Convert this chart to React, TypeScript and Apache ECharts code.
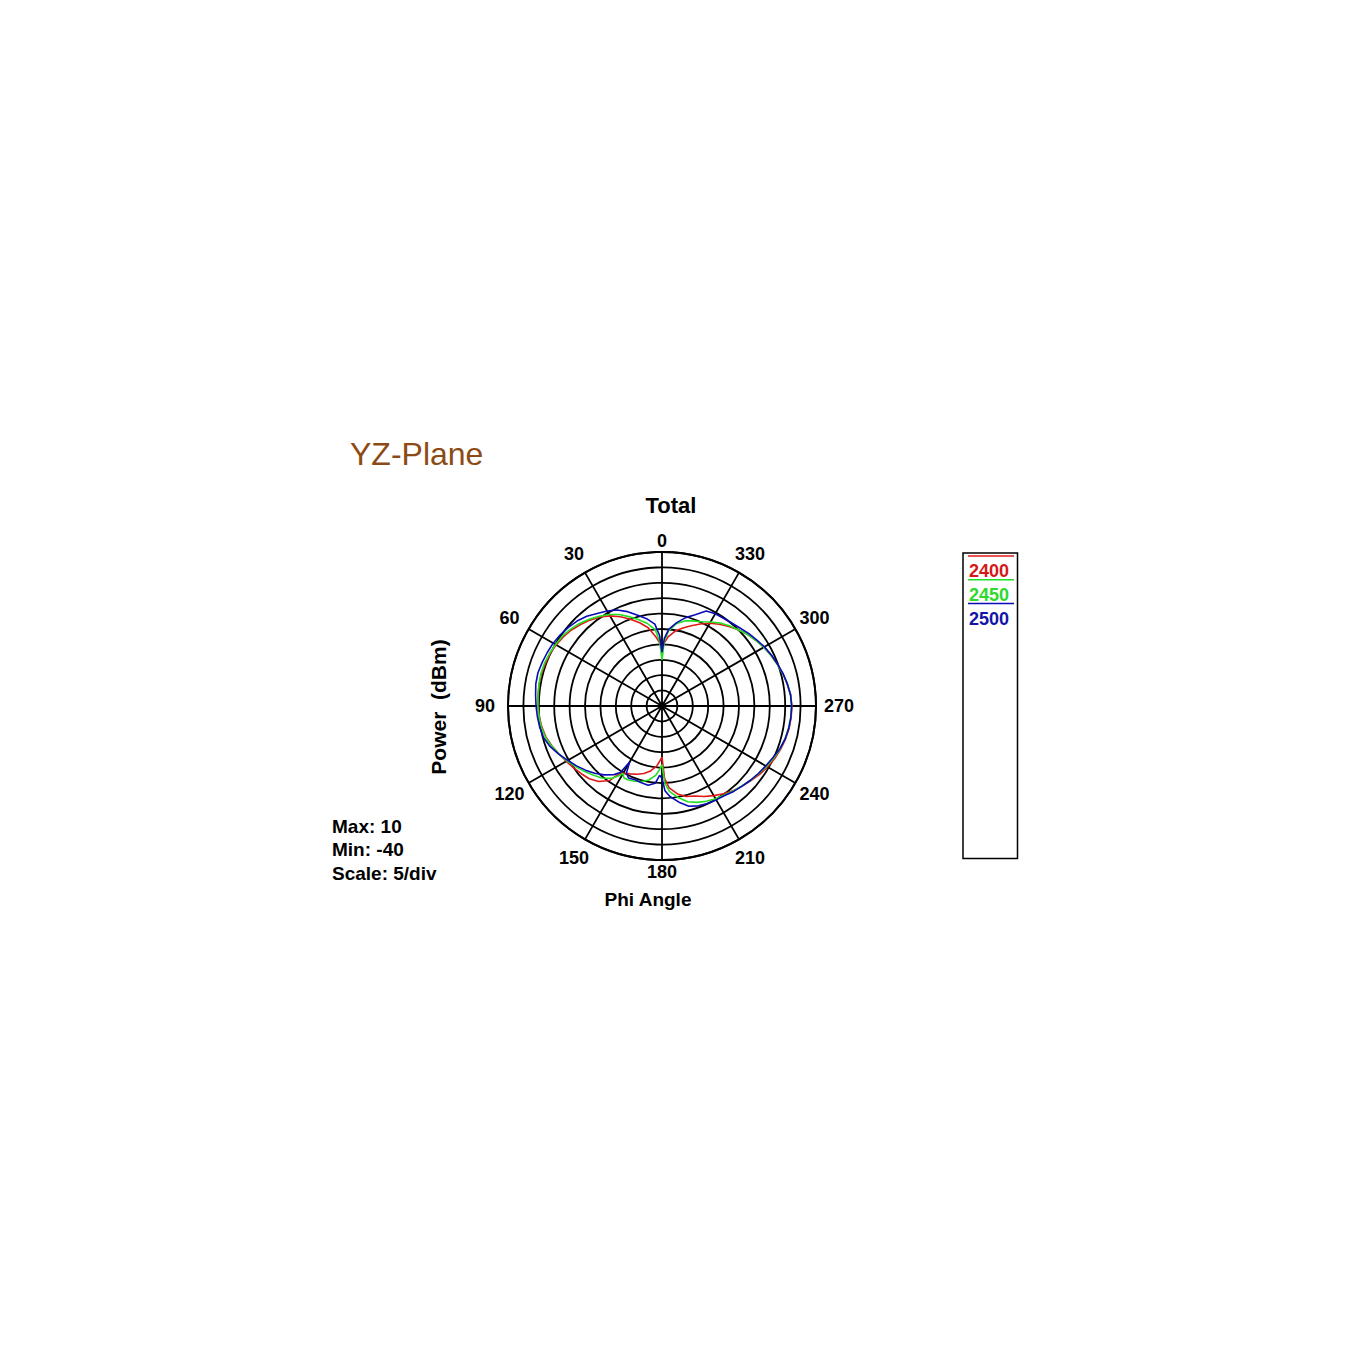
import React, { useEffect, useRef } from "react";
import * as echarts from "echarts";

const phiAngles = [
  0, 2, 5, 10, 15, 20, 25, 30, 35, 40, 45, 50, 55, 60, 65, 70, 75, 80, 85, 90,
  95, 100, 105, 110, 115, 120, 125, 130, 135, 140, 145, 148, 150, 152, 155, 160,
  165, 170, 175, 178, 180, 182, 185, 190, 195, 200, 205, 210, 215, 220, 225, 230,
  235, 240, 245, 250, 255, 260, 265, 270, 275, 280, 285, 290, 295, 300, 305, 310,
  315, 320, 325, 330, 335, 340, 345, 350, 355, 358, 360,
];

// power (dBm) per frequency
const power2400 = [
  -21.5, -19.5, -17.5, -14.2, -12.0, -10.0, -8.0, -6.2, -4.7, -3.6, -2.6, -1.6,
  -0.9, -0.3, 0.1, 0.3, 0.5, 0.5, 0.4, 0.3, 0.0, -0.4, -1.0, -2.0, -3.1, -4.1,
  -5.0, -5.8, -6.6, -8.0, -10.5, -14.3, -14.8, -15.2, -15.7, -16.4, -17.3, -18.6,
  -20.4, -22.3, -23.4, -16.5, -13.3, -11.0, -9.6, -8.9, -7.6, -6.4, -5.2, -4.1,
  -3.2, -2.3, -1.3, -0.4, 0.4, 1.0, 1.5, 1.9, 2.1, 2.2, 1.9, 1.3, 0.6, -0.2,
  -1.0, -1.8, -2.8, -3.8, -5.0, -6.3, -7.6, -9.0, -10.6, -12.3, -13.8, -15.3,
  -17.5, -19.5, -21.5,
];

const power2450 = [
  -25.0, -19.0, -15.2, -12.8, -11.0, -9.2, -7.2, -5.7, -4.4, -3.2, -2.1, -1.2,
  -0.5, -0.1, 0.3, 0.6, 0.7, 0.6, 0.4, 0.3, 0.1, -0.2, -0.8, -1.9, -3.1, -4.4,
  -5.7, -7.0, -8.3, -9.5, -11.3, -13.2, -14.7, -13.6, -13.6, -14.0, -14.6, -15.6,
  -17.5, -19.5, -21.0, -15.0, -12.2, -9.8, -7.8, -6.7, -5.9, -5.2, -4.7, -4.0,
  -3.3, -2.5, -1.7, -0.8, 0.0, 0.8, 1.3, 1.7, 2.0, 2.1, 1.9, 1.4, 0.6, -0.2,
  -1.0, -1.8, -2.8, -3.8, -5.0, -6.0, -7.1, -8.5, -9.8, -10.6, -11.4, -12.8,
  -15.5, -19.0, -25.0,
];

const power2500 = [
  -22.5, -17.0, -13.3, -11.2, -9.5, -7.4, -5.6, -4.4, -3.3, -2.0, -1.0, -0.3,
  0.3, 0.8, 1.1, 1.4, 1.7, 1.6, 1.2, 0.9, 0.6, 0.3, -0.2, -1.4, -3.0, -4.7,
  -6.1, -7.6, -9.1, -10.8, -12.8, -14.5, -19.0, -15.5, -14.2, -14.5, -14.2, -13.9,
  -14.8, -17.5, -16.5, -12.5, -10.5, -8.3, -6.3, -5.5, -5.1, -4.8, -4.5, -3.8,
  -3.2, -2.5, -1.8, -1.1, -0.3, 0.7, 1.4, 1.8, 2.0, 2.1, 1.9, 1.3, 0.7, -0.1,
  -0.8, -1.6, -2.5, -3.3, -4.2, -4.8, -5.2, -5.4, -6.0, -8.5, -10.3, -12.5,
  -15.0, -18.0, -22.5,
];

const seriesNames = ["2400", "2450", "2500"];
const lineColors = ["#e01818", "#22e022", "#0a0ab8"];
const textColors = ["#d81818", "#2fd82f", "#1414a8"];

// phi tick labels around the ring
const angleTicks = [0, 30, 60, 90, 120, 150, 180, 210, 240, 270, 300, 330];

const scaleMax = 10;
const scaleMin = -40;
const scaleStep = 5;
const infoLines = [`Max: ${scaleMax}`, `Min: ${scaleMin}`, `Scale: ${scaleStep}/div`];

const FONT = '"Liberation Sans", Arial, sans-serif';

const App: React.FC = () => {
  const chartRef = useRef<HTMLDivElement>(null);

  useEffect(() => {
    if (!chartRef.current) return;
    const chart = echarts.init(chartRef.current, null, { renderer: "svg" });

    const allPower = [power2400, power2450, power2500];
    const cx = 662;
    const cy = 706;
    const R = 154;

    // labels centred outside the ring; the ones at top/bottom sit a bit closer
    const tickLabels = angleTicks.map((a) => {
      const rad = (a * Math.PI) / 180;
      const d = a % 180 === 0 ? R + 11.5 : a % 90 === 0 ? R + 23 : R + 22;
      return {
        type: "text",
        x: cx - d * Math.sin(rad),
        y: cy - d * Math.cos(rad),
        style: {
          text: String(a),
          font: `bold 18px ${FONT}`,
          fill: "#000",
          textAlign: "center",
          verticalAlign: "middle",
        },
      };
    });

    const legendItems: any[] = [];
    seriesNames.forEach((name, i) => {
      const lineY = 556 + i * 23.7;
      legendItems.push({
        type: "line",
        shape: { x1: 968, y1: lineY, x2: 1014, y2: lineY },
        style: { stroke: lineColors[i], lineWidth: 1.5 },
      });
      legendItems.push({
        type: "text",
        x: 969,
        y: lineY + 15.3,
        style: {
          text: name,
          font: `bold 18px ${FONT}`,
          fill: textColors[i],
          textAlign: "left",
          verticalAlign: "middle",
        },
      });
    });

    const option: echarts.EChartsOption = {
      animation: false,
      backgroundColor: "#ffffff",
      polar: { center: [cx, cy], radius: R },
      angleAxis: {
        type: "value",
        min: 0,
        max: 360,
        interval: 30,
        startAngle: 90,
        clockwise: false,
        axisLine: { lineStyle: { color: "#000", width: 2 } },
        axisTick: { show: false },
        axisLabel: { show: false },
        splitLine: { lineStyle: { color: "#000", width: 1.8 } },
      },
      radiusAxis: {
        type: "value",
        min: scaleMin,
        max: scaleMax,
        interval: scaleStep,
        axisLine: { show: false },
        axisTick: { show: false },
        axisLabel: { show: false },
        splitLine: { lineStyle: { color: "#000", width: 1.8 } },
      },
      series: seriesNames.map((name, i) => ({
        name,
        type: "line",
        coordinateSystem: "polar",
        showSymbol: false,
        data: allPower[i].map((v, k) => [v, phiAngles[k]]),
        lineStyle: { color: lineColors[i], width: 1.6 },
        itemStyle: { color: lineColors[i] },
        z: 3 + i,
      })),
      graphic: [
        {
          type: "text",
          x: 350,
          y: 454,
          style: {
            text: "YZ-Plane",
            font: `32px ${FONT}`,
            fill: "#8c4a16",
            textAlign: "left",
            verticalAlign: "middle",
          },
        },
        {
          type: "text",
          x: 671,
          y: 505,
          style: {
            text: "Total",
            font: `bold 22px ${FONT}`,
            fill: "#000",
            textAlign: "center",
            verticalAlign: "middle",
          },
        },
        ...tickLabels,
        {
          type: "text",
          x: 438,
          y: 707,
          rotation: Math.PI / 2,
          style: {
            text: "Power  (dBm)",
            font: `bold 21px ${FONT}`,
            fill: "#000",
            textAlign: "center",
            verticalAlign: "middle",
          },
        },
        {
          type: "text",
          x: 648,
          y: 899,
          style: {
            text: "Phi Angle",
            font: `bold 19px ${FONT}`,
            fill: "#000",
            textAlign: "center",
            verticalAlign: "middle",
          },
        },
        ...infoLines.map((t, i) => ({
          type: "text",
          x: 332,
          y: 826 + i * 23.7,
          style: {
            text: t,
            font: `bold 19px ${FONT}`,
            fill: "#000",
            textAlign: "left",
            verticalAlign: "middle",
          },
        })),
        {
          type: "rect",
          shape: { x: 963, y: 553, width: 54.5, height: 305.5 },
          style: { fill: "none", stroke: "#000", lineWidth: 1.5 },
        },
        ...legendItems,
      ] as any,
    };

    chart.setOption(option);
    return () => {
      chart.dispose();
    };
  }, []);

  return (
    <div
      ref={chartRef}
      style={{ position: "fixed", left: 0, top: 0, width: 1350, height: 1350 }}
    />
  );
};

export default App;
